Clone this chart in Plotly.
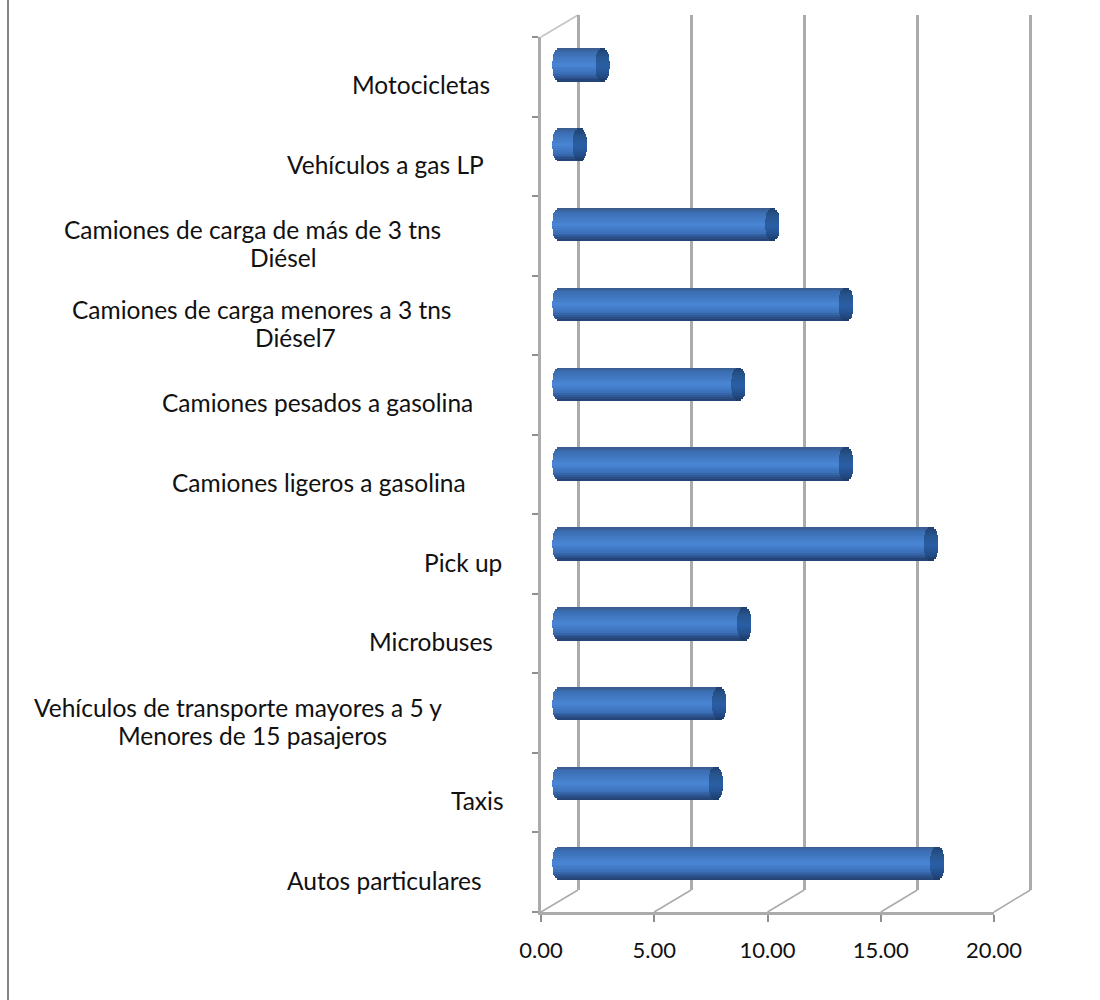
import math
import plotly.graph_objects as go

# ---- data (bottom to top) ----
categories = ["Autos particulares", "Taxis",
              "Vehículos de transporte mayores a 5 y<br>Menores de 15 pasajeros",
              "Microbuses", "Pick up", "Camiones ligeros a gasolina",
              "Camiones pesados a gasolina",
              "Camiones de carga menores a 3 tns<br>Diésel7",
              "Camiones de carga de más de 3 tns<br>Diésel",
              "Vehículos a gas LP", "Motocicletas"]
values = [16.67, 6.9, 7.05, 8.15, 16.4, 12.65, 7.9, 12.65, 9.4, 0.9, 1.9]
x_ticks = [0, 5, 10, 15, 20]

# ---- layout helpers (pixel geometry of the 3-D box) ----
W, H = 1100, 1000
FONT = "Lato"
FS = 24.5
TICK_FS = 22
GRID = "#ababab"
label_cx = [[384], [477], [237.5, 252.5], [430.5], [462.5], [318.5], [317],
            [261.5, 295], [252.5, 283.5], [385], [421]]
label_shift = -8
LINE_H = 28
STRIPS = 18
BAR_FRAC = 0.413
CAP = 0.31


def dx(a, b):
    return [a / W, b / W]


def dy(top, bottom):
    return [1 - bottom / H, 1 - top / H]


def lerp_stops(stops, t):
    for (t0, c0), (t1, c1) in zip(stops, stops[1:]):
        if t <= t1:
            f = (t - t0) / (t1 - t0)
            rgb = [round(int(c0[i:i+2], 16) + f * (int(c1[i:i+2], 16) - int(c0[i:i+2], 16)))
                   for i in (1, 3, 5)]
            return "rgb(%d,%d,%d)" % tuple(rgb)
    return stops[-1][1]


BODY = [(-1, "#3a5a86"), (-0.75, "#3a6db2"), (0.0, "#4a86d4"),
        (0.5, "#3b70bb"), (0.85, "#2a4c84"), (1, "#22406f")]
END = [(-1, "#1f3f70"), (-0.5, "#27568f"), (0.1, "#2a5fa6"), (0.6, "#244f8c"), (1, "#1c3a66")]

fig = go.Figure()

# back wall (carries the vertical gridlines)
fig.add_trace(go.Scatter(x=x_ticks, y=[0] * 5, mode="markers", marker=dict(opacity=0),
                         hoverinfo="skip", showlegend=False, xaxis="x", yaxis="y"))
# front axes
fig.add_trace(go.Scatter(x=values, y=categories, mode="markers", marker=dict(opacity=0),
                         hoverinfo="skip", showlegend=False, xaxis="x2", yaxis="y2"))

# cylinders: horizontal strips through the bar scale
step = BAR_FRAC / STRIPS
for part in ("body", "end"):
    for k in range(STRIPS):
        t = -1 + (2 * k + 1) / STRIPS
        chord = CAP * math.sqrt(max(0, 1 - abs(t) ** 3))
        if part == "body":
            base = [-chord] * len(values)
            xs = [v + chord + chord for v in values]
            color = lerp_stops(BODY, t)
        else:
            base = [v - chord for v in values]
            xs = [2 * chord] * len(values)
            color = lerp_stops(END, t)
        fig.add_trace(go.Bar(
            y=categories, x=xs, base=base, orientation="h",
            width=step * 1.25, offset=BAR_FRAC / 2 - (k + 1) * step - step * 0.12,
            marker=dict(color=color, line=dict(width=0)),
            hoverinfo="skip", showlegend=False, xaxis="x3", yaxis="y3"))

shapes = [dict(type="line", xref="paper", yref="paper", x0=8 / W, x1=8 / W, y0=0, y1=1,
               line=dict(color="#858585", width=2))]
# floor and top diagonals of the box
for v in x_ticks:
    shapes.append(dict(type="line", xref="paper", yref="paper", layer="below",
                       x0=(541 + v * 22.65) / W, y0=1 - 912 / H,
                       x1=(578 + v * 22.62) / W, y1=1 - 890 / H,
                       line=dict(color=GRID, width=1.5)))
shapes.append(dict(type="line", xref="paper", yref="paper", layer="below",
                   x0=541 / W, y0=1 - 37 / H, x1=578 / W, y1=1 - 15 / H,
                   line=dict(color="#c4c4c4", width=1.5)))

annotations = []
for c, centres in zip(categories, label_cx):
    lines = c.split("<br>")
    for i, (line, cx) in enumerate(zip(lines, centres)):
        annotations.append(dict(
            text=line, xref="paper", yref="y2", x=cx / W, y=c, xanchor="center",
            yanchor="middle", yshift=label_shift - LINE_H * (i - (len(lines) - 1) / 2),
            align="center", showarrow=False,
            font=dict(family=FONT, size=FS, color="#111111")))

back_sc = 22.62
bar_sc = 22.65
fig.update_layout(
    template="none",
    width=W, height=H, margin=dict(l=0, r=0, t=0, b=0, pad=0), autosize=False,
    paper_bgcolor="white", plot_bgcolor="rgba(0,0,0,0)", barmode="overlay",
    bargap=0, shapes=shapes, annotations=annotations, showlegend=False,
    xaxis=dict(domain=dx(570, 1040), range=[(570 - 578) / back_sc, (1040 - 578) / back_sc],
               tickvals=x_ticks, showgrid=True, gridcolor=GRID, gridwidth=2.5, automargin=False,
               showticklabels=False, ticks="", zeroline=False, showline=False, anchor="y"),
    yaxis=dict(domain=dy(15, 890), range=[-1, 1], showgrid=False, showticklabels=False,
               automargin=False, ticks="", zeroline=False, showline=False, anchor="x"),
    xaxis2=dict(domain=dx(541, 994), range=[0, 20], anchor="y2",
                tickvals=x_ticks, tickformat=".2f", showgrid=False, zeroline=False,
                automargin=False, showline=True, linecolor=GRID, linewidth=2.5,
                ticks="outside", ticklen=7, tickwidth=2, tickcolor="#8f8f8f", side="bottom",
                ticklabelstandoff=10,
                tickfont=dict(family=FONT, size=TICK_FS, color="#111111")),
    yaxis2=dict(domain=dy(37, 912), range=[-0.5, 10.5], anchor="x2",
                type="category", categoryorder="array", categoryarray=categories,
                automargin=False, showgrid=False, zeroline=False, showline=True,
                linecolor=GRID, linewidth=2.5,
                ticks="outside", tickson="boundaries", ticklen=6, tickwidth=1.5,
                tickcolor="#8f8f8f", showticklabels=False),
    xaxis3=dict(domain=dx(530, 1040), range=[(530 - 559.5) / bar_sc, (1040 - 559.5) / bar_sc],
                anchor="y3", visible=False),
    yaxis3=dict(domain=dy(25.1, 903.4), range=[-0.5, 10.5], anchor="x3",
                type="category", categoryorder="array", categoryarray=categories, visible=False),
)

fig.write_html("out.html", config=dict(displayModeBar=False),
               post_script="document.body.style.margin='0';")
